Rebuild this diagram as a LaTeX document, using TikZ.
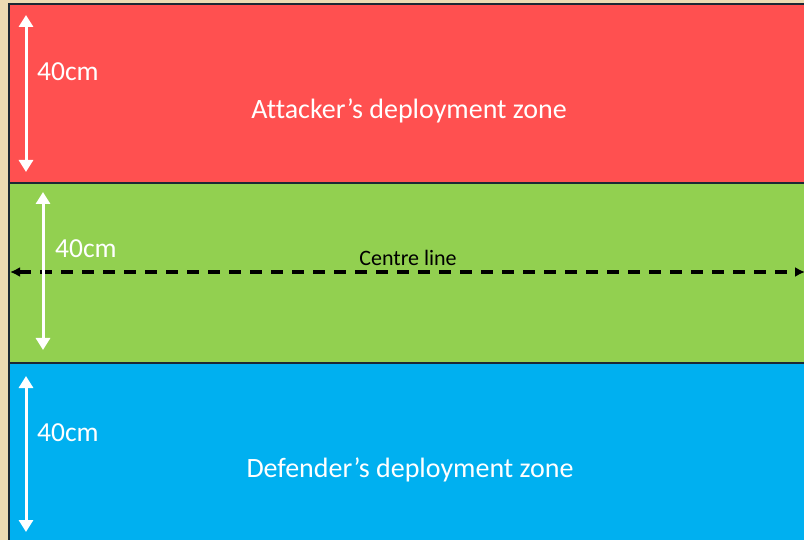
\documentclass[tikz,border=0pt]{standalone}
\usepackage{fontspec}
\setmainfont[Ligatures=NoCommon]{Carlito}
\usetikzlibrary{arrows.meta,positioning}
\definecolor{parchment}{RGB}{236,218,178}
\definecolor{attackred}{RGB}{255,80,80}
\definecolor{centregreen}{RGB}{146,208,80}
\definecolor{defendblue}{RGB}{0,176,240}
\definecolor{edgenavy}{RGB}{28,40,52}

\begin{document}
\begin{tikzpicture}[x=1pt,y=-1pt,
    zone/.style={draw=edgenavy, line width=2pt},
    measure/.style={white, line width=3pt,
        {Triangle[width=14pt,length=12pt]}-{Triangle[width=14pt,length=12pt]}},
    measuretext/.style={text=white, anchor=west, inner sep=0pt, font=\fontsize{27.5}{32}\selectfont},
    zonetext/.style={text=white, inner sep=0pt, font=\fontsize{28}{34}\selectfont},
    centreline/.style={black, line width=3.5pt, dash pattern=on 12pt off 9pt,
        {Latex[length=10pt,width=10pt]}-{Latex[length=10pt,width=10pt]}}]
\useasboundingbox (0,0) rectangle (804,540);
\clip (0,0) rectangle (804,540);

% Table background
\fill[parchment] (0,0) rectangle (804,540);

% Deployment zones
\filldraw[zone, fill=attackred] (9,4) rectangle (820,183);
\filldraw[zone, fill=centregreen] (9,183) rectangle (820,363);
\filldraw[zone, fill=defendblue] (9,363) rectangle (820,560);

% Zone labels
\node[zonetext] (attacker) at (409,111) {Attacker’s deployment zone};
\node[zonetext] (defender) at (410,470) {Defender’s deployment zone};

% Centre line
\coordinate (cleft) at (10,272);
\coordinate (cright) at (805,272);
\draw[centreline] (cleft) -- (cright);
\node[anchor=base, inner sep=0pt, font=\fontsize{22}{26}\selectfont] (centre) at (408,266) {Centre line};

% Depth measures
\foreach \i/\x/\ya/\yb/\tx/\ty in {1/26/15/172/37/72, 2/43/192/350/55/249, 3/26/376/532/37/433} {
    \coordinate (m\i top) at (\x,\ya);
    \coordinate (m\i bot) at (\x,\yb);
    \draw[measure] (m\i top) -- (m\i bot);
    \node[measuretext] (depth\i) at (\tx,\ty) {40cm};
}
\end{tikzpicture}
\end{document}
